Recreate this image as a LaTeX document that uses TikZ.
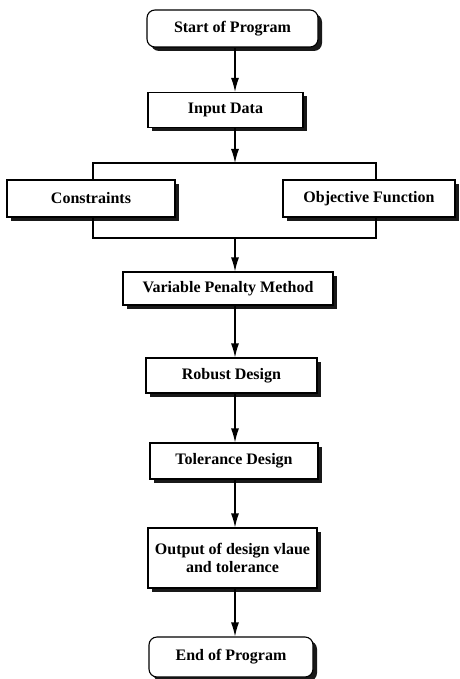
\documentclass[tikz,border=0pt]{standalone}
\usepackage{fontspec}
\setmainfont{Liberation Serif}
\usetikzlibrary{arrows.meta,shadows}

\begin{document}
\begin{tikzpicture}[x=1pt,y=-1pt,
    font=\bfseries\fontsize{16}{18}\selectfont,
    box/.style={draw, line width=1.1pt, fill=white, inner sep=2pt,
        drop shadow={shadow xshift=4pt, shadow yshift=-4pt, fill=black, opacity=0.9}},
    term/.style={box, rounded corners=8pt},
    flow/.style={line width=1.2pt, -{Latex[length=14pt,width=8pt]}},
    link/.style={line width=1.1pt}]
        \useasboundingbox (0,0) rectangle (459,679);
        \coordinate (spine) at (235,0);

        \node[term, minimum width=171pt, minimum height=37pt] (start) at (232.5,28.5) {Start of Program};
        \node[box, minimum width=155pt, minimum height=35pt] (input) at (225.5,110) {Input Data};

        \coordinate (top) at (235,163);
        \coordinate (bot) at (235,238);
        \node[box, minimum width=168pt, minimum height=37pt] (cons) at (91,198.5) {Constraints};
        \node[box, minimum width=172pt, minimum height=37pt] (obj) at (369,198.5) {Objective Function};

        \node[box, minimum width=210pt, minimum height=33pt] (vpm) at (228,288.5) {Variable Penalty Method};
        \node[box, minimum width=171pt, minimum height=35pt] (robust) at (231.5,375.5) {Robust Design};
        \node[box, minimum width=168pt, minimum height=36pt] (tol) at (234,461) {Tolerance Design};
        \node[box, minimum width=169pt, minimum height=60pt, align=center] (out) at (232.5,558) {Output of design vlaue\\and tolerance};
        \node[term, minimum width=164pt, minimum height=40pt] (end) at (231,657) {End of Program};

        % main line
        \draw[flow] (start.south -| spine) -- (input.north -| spine);
        \draw[flow] (input.south -| spine) -- (top);

        % two branches
        \draw[link] (cons.north -| 93,0) |- (top) -| (obj.north -| 376,0);
        \draw[link] (cons.south -| 93,0) |- (bot) -| (obj.south -| 376,0);

        \draw[flow] (bot) -- (vpm.north -| spine);
        \draw[flow] (vpm.south -| spine) -- (robust.north -| spine);
        \draw[flow] (robust.south -| spine) -- (tol.north -| spine);
        \draw[flow] (tol.south -| spine) -- (out.north -| spine);
        \draw[flow] (out.south -| spine) -- (end.north -| spine);
    \end{tikzpicture}
\end{document}
